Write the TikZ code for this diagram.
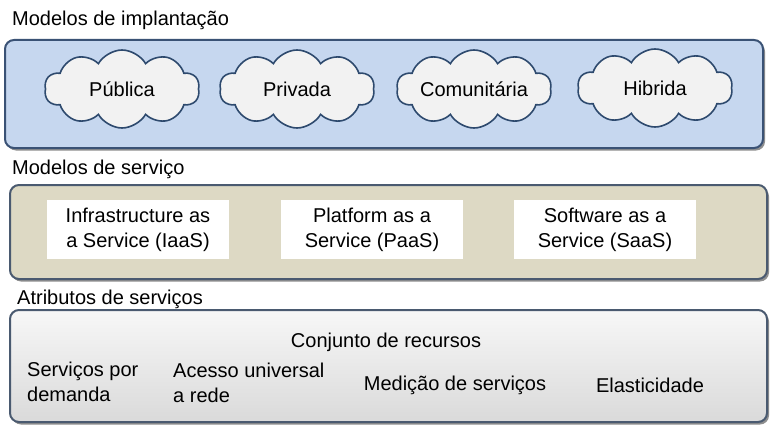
\documentclass[tikz,border=0pt]{standalone}
\usepackage{fontspec}
\setmainfont{Liberation Sans}
\usetikzlibrary{shapes.symbols,shadows}
\definecolor{bluefill}{HTML}{C6D7EF}
\definecolor{blueborder}{HTML}{3A5275}
\definecolor{tanfill}{HTML}{DDD9C4}
\definecolor{grayfill}{HTML}{F2F2F2}
\definecolor{panelborder}{HTML}{4A5A70}
\definecolor{cloudborder}{HTML}{2E4A6E}
\tikzset{
  panel/.style={draw=panelborder, line width=2pt, rounded corners=9pt, inner sep=0pt,
    drop shadow={shadow xshift=2pt, shadow yshift=-2.5pt, fill=black!55, opacity=0.8}},
  cloudnode/.style={cloud, cloud puffs=10, cloud puff arc=120, aspect=2, draw=cloudborder,
    line width=1.6pt, fill=grayfill, minimum width=155pt, minimum height=78pt, inner sep=0pt},
  whitebox/.style={fill=white, minimum width=182pt, minimum height=59pt, inner sep=0pt, align=center},
  lbl/.style={inner sep=0pt, font=\fontsize{20}{25}\selectfont}
}
\begin{document}
\begin{tikzpicture}[x=1pt,y=-1pt]
\useasboundingbox (0,0) rectangle (771,428);
\fill[white] (0,0) rectangle (771,428);

% headings
\node[lbl, anchor=base west] (h1) at (12,26) {Modelos de implantação};
\node[lbl, anchor=base west] (h2) at (12,174) {Modelos de serviço};
\node[lbl, anchor=base west] (h3) at (17,304) {Atributos de serviços};

% panel 1
\node[panel, fill=bluefill, draw=blueborder, minimum width=758pt, minimum height=108pt] (p1) at (384,94) {};
\node[cloudnode] (c1) at (122,89) {};
\node[cloudnode] (c2) at (297,89) {};
\node[cloudnode] (c3) at (474,89) {};
\node[cloudnode] (c4) at (655,88) {};
\node[lbl] (t1) at (c1) {Pública};
\node[lbl] (t2) at (c2) {Privada};
\node[lbl] (t3) at (c3) {Comunitária};
\node[lbl] (t4) at (c4) {Hibrida};

% panel 2
\node[panel, fill=tanfill, minimum width=757pt, minimum height=94pt] (p2) at (388.5,232) {};
\node[whitebox, lbl] (s1) at (138,229.5) {Infrastructure as\\a Service (IaaS)};
\node[whitebox, lbl] (s2) at (372,229.5) {Platform as a\\Service (PaaS)};
\node[whitebox, lbl] (s3) at (605,229.5) {Software as a\\Service (SaaS)};

% panel 3
\node[panel, top color=grayfill!60!white, bottom color=grayfill!90!black, minimum width=757pt, minimum height=112pt] (p3) at (388.5,366) {};
\node[lbl] (a0) at (386,342) {Conjunto de recursos};
\node[lbl, anchor=west, align=left] (a1) at (27,382) {Serviços por\\demanda};
\node[lbl, anchor=west, align=left] (a2) at (173,383) {Acesso universal\\a rede};
\node[lbl] (a3) at (455,385) {Medição de serviços};
\node[lbl] (a4) at (650,385) {Elasticidade};
\end{tikzpicture}
\end{document}
